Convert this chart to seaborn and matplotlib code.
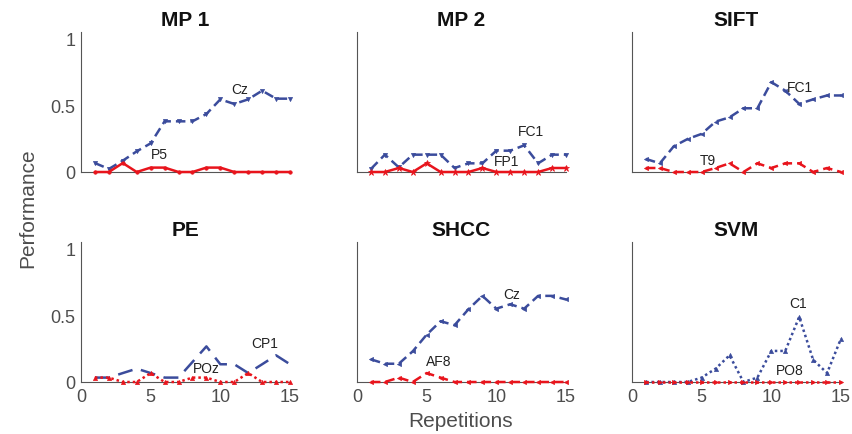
import matplotlib
matplotlib.use("Agg")
import matplotlib.pyplot as plt
import seaborn as sns
import pandas as pd

# Repetition index shared by every panel
repetitions = list(range(1, 16))

# Panel titles and channel names
titles = ["MP 1", "MP 2", "SIFT", "PE", "SHCC", "SVM"]
best_channels = ["Cz", "FC1", "FC1", "CP1", "Cz", "C1"]
worst_channels = ["P5", "FP1", "T9", "POz", "AF8", "PO8"]

# Performance of the best channel per method
mp1_best = [0.067, 0.023, 0.085, 0.155, 0.215, 0.38, 0.38, 0.38, 0.435, 0.545, 0.51, 0.545, 0.61, 0.55, 0.55]
mp2_best = [0.023, 0.13, 0.035, 0.13, 0.13, 0.13, 0.03, 0.065, 0.065, 0.16, 0.16, 0.2, 0.065, 0.13, 0.13]
sift_best = [0.098, 0.065, 0.193, 0.248, 0.286, 0.378, 0.41, 0.478, 0.478, 0.674, 0.61, 0.511, 0.545, 0.574, 0.574]
pe_best = [0.033, 0.033, 0.067, 0.1, 0.067, 0.033, 0.033, 0.15, 0.267, 0.133, 0.133, 0.067, 0.133, 0.2, 0.133]
shcc_best = [0.17, 0.137, 0.137, 0.23, 0.355, 0.456, 0.426, 0.546, 0.646, 0.55, 0.583, 0.55, 0.646, 0.646, 0.619]
svm_best = [0, 0, 0, 0, 0.033, 0.1, 0.2, 0, 0.033, 0.233, 0.233, 0.488, 0.167, 0.067, 0.326]

# Performance of the worst channel per method
mp1_worst = [0, 0, 0.067, 0, 0.033, 0.033, 0, 0, 0.033, 0.033, 0, 0, 0, 0, 0]
mp2_worst = [0, 0, 0.03, 0, 0.065, 0, 0, 0, 0.03, 0, 0, 0, 0, 0.03, 0.03]
sift_worst = [0.03, 0.03, 0, 0, 0, 0.03, 0.065, 0, 0.065, 0.03, 0.065, 0.065, 0, 0.03, 0]
pe_worst = [0.033, 0.033, 0, 0, 0.067, 0, 0, 0.033, 0.033, 0, 0, 0.067, 0, 0, 0]
shcc_worst = [0, 0, 0.033, 0, 0.067, 0.033, 0, 0, 0, 0, 0, 0, 0, 0, 0]
svm_worst = [0, 0, 0, 0, 0, 0, 0, 0, 0, 0, 0, 0, 0, 0, 0]

best_series = [mp1_best, mp2_best, sift_best, pe_best, shcc_best, svm_best]
worst_series = [mp1_worst, mp2_worst, sift_worst, pe_worst, shcc_worst, svm_worst]

# Where each channel name sits (data coordinates)
best_label_pos = [(11.4, 0.62), (12.5, 0.31), (12.06, 0.64), (13.2, 0.29), (11.1, 0.66), (11.94, 0.59)]
worst_label_pos = [(5.6, 0.135), (10.7, 0.08), (5.47, 0.09), (9.0, 0.105), (5.87, 0.16), (11.3, 0.087)]

# Line appearance per panel
DASH = (0, (3.8, 2.0))
LONG_DASH = (0, (6.0, 3.5))
DOT = (0, (1.0, 1.2))
best_styles = [
    dict(linestyle=DASH, marker="v"),
    dict(linestyle=DASH, marker="v"),
    dict(linestyle=DASH, marker="<"),
    dict(linestyle=LONG_DASH, marker=None),
    dict(linestyle=DASH, marker="<"),
    dict(linestyle=DOT, marker="^"),
]
worst_styles = [
    dict(linestyle="-", marker="."),
    dict(linestyle="-", marker="*"),
    dict(linestyle=DASH, marker="<"),
    dict(linestyle=DOT, marker="^"),
    dict(linestyle=DASH, marker="<"),
    dict(linestyle=DOT, marker=">"),
]

BLUE = "#3b4c9c"
RED = "#e8141c"
GRAY = "#4d4d4d"

sns.set_style("white")
plt.rcParams["font.family"] = ["Liberation Sans", "DejaVu Sans"]

fig = plt.figure(figsize=(8.52, 4.35), dpi=100)

W, H = 852.0, 435.0
col_left = [81, 357, 632]
ax_w = 209
row_bottom = [173, 383]
ax_h = 140

for i in range(6):
    r, c = divmod(i, 3)
    ax = fig.add_axes([col_left[c] / W, 1 - row_bottom[r] / H, ax_w / W, ax_h / H])

    df = pd.DataFrame({
        "rep": repetitions,
        "best": best_series[i],
        "worst": worst_series[i],
    })

    bs = best_styles[i]
    ws = worst_styles[i]
    sns.lineplot(data=df, x="rep", y="best", ax=ax, color=BLUE, lw=1.8,
                 linestyle=bs["linestyle"], marker=bs["marker"], markersize=3,
                 markeredgewidth=0.5, markeredgecolor=BLUE, clip_on=False, zorder=3)
    sns.lineplot(data=df, x="rep", y="worst", ax=ax, color=RED, lw=1.8,
                 linestyle=ws["linestyle"], marker=ws["marker"],
                 markersize=5 if ws["marker"] in ("*", ".") else 3,
                 markeredgewidth=0.5, markeredgecolor=RED, clip_on=False, zorder=4)

    bx, by = best_label_pos[i]
    wx, wy = worst_label_pos[i]
    ax.text(bx, by, best_channels[i], ha="center", va="center", fontsize=10, color="#222222", zorder=5)
    ax.text(wx, wy, worst_channels[i], ha="center", va="center", fontsize=10, color="#222222", zorder=5)

    ax.set_xlim(0, 15)
    ax.set_ylim(0, 1.05)
    ax.set_xticks([0, 5, 10, 15])
    ax.set_yticks([0, 0.5, 1])
    ax.set_xlabel("")
    ax.set_ylabel("")
    ax.set_title(titles[i], fontsize=15, fontweight="bold", color="#111111", pad=5)

    for side in ("top", "right"):
        ax.spines[side].set_visible(False)
    for side in ("left", "bottom"):
        ax.spines[side].set_color("#555555")
        ax.spines[side].set_linewidth(0.8)
    ax.tick_params(direction="in", length=3, width=0.7, color="#555555",
                   labelsize=13, labelcolor=GRAY, pad=4,
                   labelbottom=(r == 1), labelleft=(c == 0))
    ax.set_yticklabels(["0", "0.5", "1"])
    ax.set_xticklabels(["0", "5", "10", "15"])
    ax.set_facecolor("white")

fig.text(28 / W, 1 - 208 / H, "Performance", rotation=90, ha="center", va="center",
         fontsize=15, color=GRAY)
fig.text(461 / W, 1 - 422 / H, "Repetitions", ha="center", va="center",
         fontsize=15, color=GRAY)

fig.savefig("out.png", dpi=100, facecolor="white")
